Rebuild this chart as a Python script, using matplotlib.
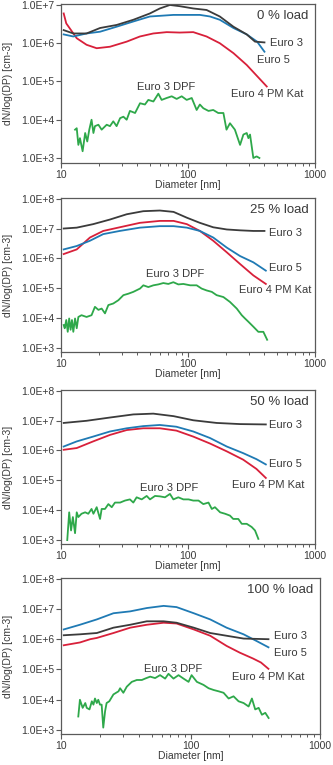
import math
import matplotlib
matplotlib.use('Agg')
import matplotlib.pyplot as plt
from matplotlib.ticker import FixedLocator, FuncFormatter, LogLocator, NullFormatter

plt.rcParams['font.family'] = ['Liberation Sans', 'DejaVu Sans']

# 颜色
C_E3 = '#3b3b3b'
C_E5 = '#1f7ab4'
C_E4 = '#d8203a'
C_DPF = '#2ea84a'
TXT = '#3a3a3a'
FRAME = '#5a5a5a'

# ---------- 0 % load ----------
d0_e3 = [10.5, 12.5, 15.9, 20.3, 27.4, 37.1, 50.1, 60, 72, 86, 110, 140, 178, 228, 290, 337, 400]
v0_e3 = [2.2e6, 1.8e6, 1.8e6, 2.5e6, 3.0e6, 4.1e6, 6.0e6, 8.1e6, 1.0e7, 9.3e6, 8.1e6, 7.4e6, 5.0e6, 2.7e6, 1.7e6, 1.1e6, 1.05e6]
d0_e5 = [10.5, 12.5, 15.9, 20.3, 27.4, 37.1, 50.1, 60, 76.7, 97.7, 124, 149, 178, 228, 290, 350, 400]
v0_e5 = [1.7e6, 1.5e6, 1.8e6, 2.0e6, 2.7e6, 3.7e6, 5.0e6, 5.2e6, 5.5e6, 5.5e6, 5.5e6, 5.0e6, 4.1e6, 2.5e6, 1.7e6, 1.1e6, 6.0e5]
d0_e4 = [10.5, 11, 13.3, 15.9, 19.1, 24.3, 32.9, 41.8, 53.3, 68, 86, 110, 140, 178, 228, 290, 342, 417]
v0_e4 = [6.0e6, 3.3e6, 1.35e6, 9.1e5, 7.4e5, 8.1e5, 1.1e6, 1.5e6, 1.8e6, 1.95e6, 1.9e6, 1.95e6, 1.5e6, 1.0e6, 5.5e5, 2.7e5, 1.5e5, 7.4e4]
d0_dpf = [12.9, 13.3, 13.7, 14.1, 14.8, 15.5, 16.1, 16.7, 17.4, 18.0, 18.5, 19.7, 20.9, 22.9, 24.3, 25.8, 27.4,
          29.2, 31.0, 32.9, 34.9, 38.3, 41.9, 45.8, 48.7, 53.4, 58.4, 62.0, 67.9, 74.4, 81.4, 89.2, 97.6, 107,
          117, 124, 132, 145, 158, 173, 190, 201, 214, 234, 257, 273, 290, 299, 308, 327, 347, 365]
v0_dpf = [5.5e3, 6.0e3, 2.2e3, 3.3e3, 1.5e3, 4.5e3, 2.7e3, 5.5e3, 1.0e4, 4.5e3, 6.8e3, 7.4e3, 5.5e3, 7.4e3, 6.8e3,
          9.1e3, 6.8e3, 1.1e4, 1.2e4, 1.0e4, 1.7e4, 1.5e4, 2.7e4, 2.5e4, 3.3e4, 3.0e4, 4.8e4, 3.3e4, 3.7e4, 4.1e4,
          3.5e4, 4.1e4, 3.3e4, 3.7e4, 1.8e4, 2.5e4, 2.0e4, 1.7e4, 1.8e4, 1.5e4, 1.5e4, 5.5e3, 8.1e3, 5.5e3, 2.2e3,
          4.1e3, 4.5e3, 3.3e3, 4.1e3, 1.0e3, 1.1e3, 1.0e3]

# ---------- 25 % load ----------
d25_e3 = [10.5, 13.3, 17.9, 24.3, 32.9, 44.4, 60, 77, 98, 124, 158, 202, 257, 327, 400]
v25_e3 = [1.0e7, 1.07e7, 1.4e7, 2.0e7, 3.0e7, 3.8e7, 4.0e7, 3.6e7, 2.3e7, 1.55e7, 1.1e7, 9.3e6, 8.7e6, 8.3e6, 8.3e6]
d25_e5 = [10.5, 13.3, 16.9, 21.5, 29, 41.8, 60, 77, 98, 124, 158, 202, 257, 327, 410]
v25_e5 = [2.0e6, 2.6e6, 3.9e6, 6.5e6, 8.3e6, 1.07e7, 1.2e7, 1.2e7, 1.07e7, 8.3e6, 5.0e6, 2.3e6, 1.2e6, 7.4e5, 3.9e5]
d25_e4 = [10.5, 13.3, 16.9, 21.5, 29, 41.8, 60, 77, 98, 124, 158, 202, 257, 327, 410]
v25_e4 = [1.4e6, 2.0e6, 5.0e6, 8.3e6, 1.1e7, 1.55e7, 1.8e7, 1.8e7, 1.4e7, 8.3e6, 3.9e6, 1.6e6, 6.5e5, 2.7e5, 1.4e5]
d25_dpf = [10.5, 10.7, 11.0, 11.3, 11.6, 11.9, 12.2, 12.5, 12.9, 13.3, 13.7, 14.5, 15.9, 17.4, 18.5, 19.7, 20.9,
           22.2, 23.6, 25.8, 28.3, 31.0, 33.9, 37.1, 41.9, 44.5, 48.7, 53.4, 58.4, 63.9, 70.0, 76.7, 83.9, 91.9,
           104, 117, 128, 140, 154, 168, 190, 214, 242, 265, 281, 299, 327, 358, 392, 420]
v25_dpf = [5.9e3, 4.6e3, 8.7e3, 3.5e3, 9.8e3, 4.1e3, 8.7e3, 3.5e3, 9.8e3, 4.6e3, 1.1e4, 1.26e4, 1.1e4, 1.26e4,
           2.4e4, 1.9e4, 2.1e4, 1.45e4, 2.75e4, 3.1e4, 4.0e4, 5.9e4, 6.6e4, 7.6e4, 9.8e4, 1.26e5, 1.1e5, 1.26e5,
           1.35e5, 1.5e5, 1.4e5, 1.6e5, 1.35e5, 1.4e5, 1.26e5, 1.26e5, 9.8e4, 8.5e4, 7.6e4, 5.9e4, 5.1e4, 3.5e4,
           2.1e4, 1.26e4, 9.8e3, 7.6e3, 5.2e3, 3.5e3, 3.5e3, 1.9e3]

# ---------- 50 % load ----------
d50_e3 = [10.5, 15.9, 24.3, 37.1, 53.3, 77, 110, 168, 257, 410]
v50_e3 = [8.3e6, 9.8e6, 1.26e7, 1.6e7, 1.7e7, 1.4e7, 1.02e7, 8.3e6, 7.6e6, 7.4e6]
d50_e5 = [10.5, 13.3, 17.9, 24.3, 32.9, 44.4, 60, 81, 110, 149, 202, 272, 346, 410]
v50_e5 = [1.35e6, 2.0e6, 2.9e6, 4.3e6, 5.5e6, 6.5e6, 7.1e6, 6.2e6, 4.3e6, 2.6e6, 1.35e6, 8.1e5, 5.1e5, 3.4e5]
d50_e4 = [10.5, 13.3, 17.9, 24.3, 32.9, 44.4, 60, 81, 110, 149, 202, 272, 346, 410]
v50_e4 = [1.05e6, 1.2e6, 2.0e6, 3.3e6, 4.8e6, 5.5e6, 5.5e6, 4.6e6, 2.9e6, 1.7e6, 9.3e5, 4.9e5, 2.4e5, 1.2e5]
d50_dpf = [11.2, 11.6, 12.0, 12.4, 12.9, 13.3, 13.7, 14.5, 15.5, 16.4, 17.4, 18.0, 19.1, 20.3, 20.9, 22.2, 23.6,
           25.1, 26.6, 29.2, 31.9, 34.9, 37.1, 39.4, 43.2, 47.3, 50.2, 55.0, 60.2, 65.9, 72.1, 76.7, 83.9, 91.9,
           101, 110, 121, 132, 145, 154, 163, 179, 196, 214, 227, 249, 265, 290, 317, 337, 358]
v50_dpf = [1.0e3, 8.5e3, 2.1e3, 5.9e3, 1.7e3, 8.5e3, 5.9e3, 7.6e3, 8.5e3, 7.6e3, 1.1e4, 7.6e3, 1.26e4, 5.1e3,
           1.1e4, 1.1e4, 1.6e4, 1.26e4, 1.8e4, 1.8e4, 2.1e4, 2.3e4, 1.8e4, 2.7e4, 2.3e4, 3.0e4, 2.3e4, 3.0e4,
           2.9e4, 2.7e4, 3.5e4, 2.3e4, 2.7e4, 2.3e4, 2.3e4, 2.1e4, 2.1e4, 1.6e4, 1.8e4, 1.1e4, 1.26e4, 8.5e3,
           7.6e3, 6.6e3, 5.1e3, 5.1e3, 3.5e3, 3.5e3, 2.75e3, 2.1e3, 1.1e3]

# ---------- 100 % load ----------
d100_e3 = [10.5, 14.0, 18.9, 25.4, 34.2, 46, 62, 78, 106, 142, 190, 257, 400]
v100_e3 = [1.35e6, 1.45e6, 1.6e6, 2.4e6, 3.0e6, 3.9e6, 3.9e6, 3.5e6, 2.4e6, 1.6e6, 1.3e6, 1.05e6, 1.0e6]
d100_e5 = [10.5, 14.0, 18.9, 25.4, 34.2, 46, 62, 78, 106, 142, 190, 257, 324, 400]
v100_e5 = [2.1e6, 3.0e6, 4.5e6, 7.2e6, 8.3e6, 1.07e7, 1.26e7, 1.15e7, 7.2e6, 4.5e6, 2.4e6, 1.45e6, 8.7e5, 5.4e5]
d100_e4 = [10.5, 14.0, 16.8, 18.9, 25.4, 34.2, 46, 62, 78, 106, 142, 190, 240, 304, 350, 400]
v100_e4 = [6.3e5, 7.8e5, 1.0e6, 1.1e6, 1.6e6, 2.4e6, 3.0e6, 3.5e6, 3.3e6, 2.1e6, 1.3e6, 6.0e5, 3.6e5, 2.3e5,
           1.7e5, 1.05e5]
d100_dpf = [13.6, 14.0, 14.7, 15.4, 15.8, 16.6, 17.3, 17.8, 18.3, 18.9, 19.4, 20.0, 20.6, 21.2, 21.9, 22.5, 23.6,
            25.4, 27.8, 28.6, 30.3, 32.2, 35.2, 38.5, 42.1, 44.6, 48.8, 53.3, 58.2, 63.7, 67.6, 73.9, 80.8, 88.3,
            96.6, 102, 112, 126, 138, 151, 165, 180, 197, 215, 235, 257, 281, 298, 316, 336, 356, 378, 401]
v100_dpf = [2.8e3, 1.0e4, 5.4e3, 7.8e3, 5.4e3, 4.8e3, 8.9e3, 6.9e3, 1.1e4, 7.8e3, 1.0e4, 6.9e3, 6.9e3, 1.2e3,
            4.2e3, 7.8e3, 8.9e3, 1.5e4, 1.9e4, 2.4e4, 1.7e4, 2.7e4, 3.9e4, 4.5e4, 4.5e4, 5.0e4, 5.8e4, 5.2e4,
            6.5e4, 5.0e4, 7.2e4, 5.0e4, 6.5e4, 5.0e4, 3.9e4, 6.5e4, 3.9e4, 3.1e4, 2.4e4, 2.1e4, 1.9e4, 1.7e4,
            1.1e4, 1.3e4, 8.9e3, 7.8e3, 6.0e3, 1.1e4, 4.8e3, 5.4e3, 3.2e3, 3.7e3, 2.5e3]

loads = ['0 % load', '25 % load', '50 % load', '100 % load']
names = ['Euro 3', 'Euro 5', 'Euro 4 PM Kat', 'Euro 3 DPF']


def fmt_y(v, pos):
    return '1.0E+%d' % round(math.log10(v))


def draw_panel(ax, series, title, ylim, label_pos, ylab_x):
    for d, v, c in series:
        ax.plot(d, v, color=c, lw=1.3, solid_joinstyle='round')
    ax.set_xscale('log')
    ax.set_yscale('log')
    ax.set_xlim(10, 1000)
    ax.set_ylim(*ylim)

    ax.yaxis.set_major_locator(LogLocator(base=10, numticks=10))
    ax.yaxis.set_minor_locator(FixedLocator([]))
    ax.yaxis.set_major_formatter(FuncFormatter(fmt_y))
    ax.xaxis.set_major_locator(FixedLocator([10, 100, 1000]))
    ax.xaxis.set_minor_locator(LogLocator(base=10, subs=range(2, 10), numticks=10))
    ax.xaxis.set_minor_formatter(NullFormatter())
    ax.xaxis.set_major_formatter(FuncFormatter(lambda v, p: '%d' % v))

    ax.tick_params(axis='both', which='major', direction='out', length=3.5, width=0.8,
                   color=FRAME, labelsize=7.5, labelcolor=TXT, pad=1.5)
    ax.tick_params(axis='x', which='minor', direction='out', length=2.5, width=0.7, color=FRAME)
    for s in ax.spines.values():
        s.set_color(FRAME)
        s.set_linewidth(0.9)

    ax.set_xlabel('Diameter [nm]', fontsize=7.5, color=TXT, labelpad=0)
    ax.set_ylabel('dN/log(DP) [cm-3]', fontsize=7.5, color=TXT)
    ax.yaxis.set_label_coords(ylab_x, 0.5)

    ax.text(0.975, 0.925, title, transform=ax.transAxes, ha='right', va='center',
            fontsize=9.5, color=TXT)
    for name, (x, y) in zip(names, label_pos):
        ax.text(x, y, name, fontsize=8, color=TXT, ha='left', va='center')


fig = plt.figure(figsize=(3.33, 7.65), dpi=100)
W, H = 333.0, 765.0


def add_axes(left, right, top, bottom):
    return fig.add_axes([left / W, 1 - bottom / H, (right - left) / W, (bottom - top) / H])


ax1 = add_axes(61, 315, 4, 163)
ax2 = add_axes(61, 315, 198, 352)
ax3 = add_axes(61, 315, 390, 544)
ax4 = add_axes(61, 320, 578, 734)

draw_panel(ax1, [(d0_dpf, v0_dpf, C_DPF), (d0_e4, v0_e4, C_E4), (d0_e5, v0_e5, C_E5), (d0_e3, v0_e3, C_E3)],
           loads[0], (7.4e2, 1.06e7),
           [(440, 1.0e6), (350, 3.7e5), (220, 4.7e4), (40, 7.1e4)], -0.19)
draw_panel(ax2, [(d25_dpf, v25_dpf, C_DPF), (d25_e4, v25_e4, C_E4), (d25_e5, v25_e5, C_E5), (d25_e3, v25_e3, C_E3)],
           loads[1], (7.4e2, 1.05e8),
           [(435, 7.2e6), (435, 4.7e5), (250, 8.5e4), (47, 2.9e5)], -0.19)
draw_panel(ax3, [(d50_dpf, v50_dpf, C_DPF), (d50_e4, v50_e4, C_E4), (d50_e5, v50_e5, C_E5), (d50_e3, v50_e3, C_E3)],
           loads[2], (7.4e2, 1.05e8),
           [(435, 6.9e6), (435, 3.4e5), (224, 6.9e4), (42, 5.4e4)], -0.19)
draw_panel(ax4, [(d100_dpf, v100_dpf, C_DPF), (d100_e4, v100_e4, C_E4), (d100_e5, v100_e5, C_E5), (d100_e3, v100_e3, C_E3)],
           loads[3], (7.4e2, 1.05e8),
           [(440, 1.3e6), (440, 3.5e5), (208, 5.6e4), (44, 1.0e5)], -0.185)

fig.savefig('out.png', dpi=100)
